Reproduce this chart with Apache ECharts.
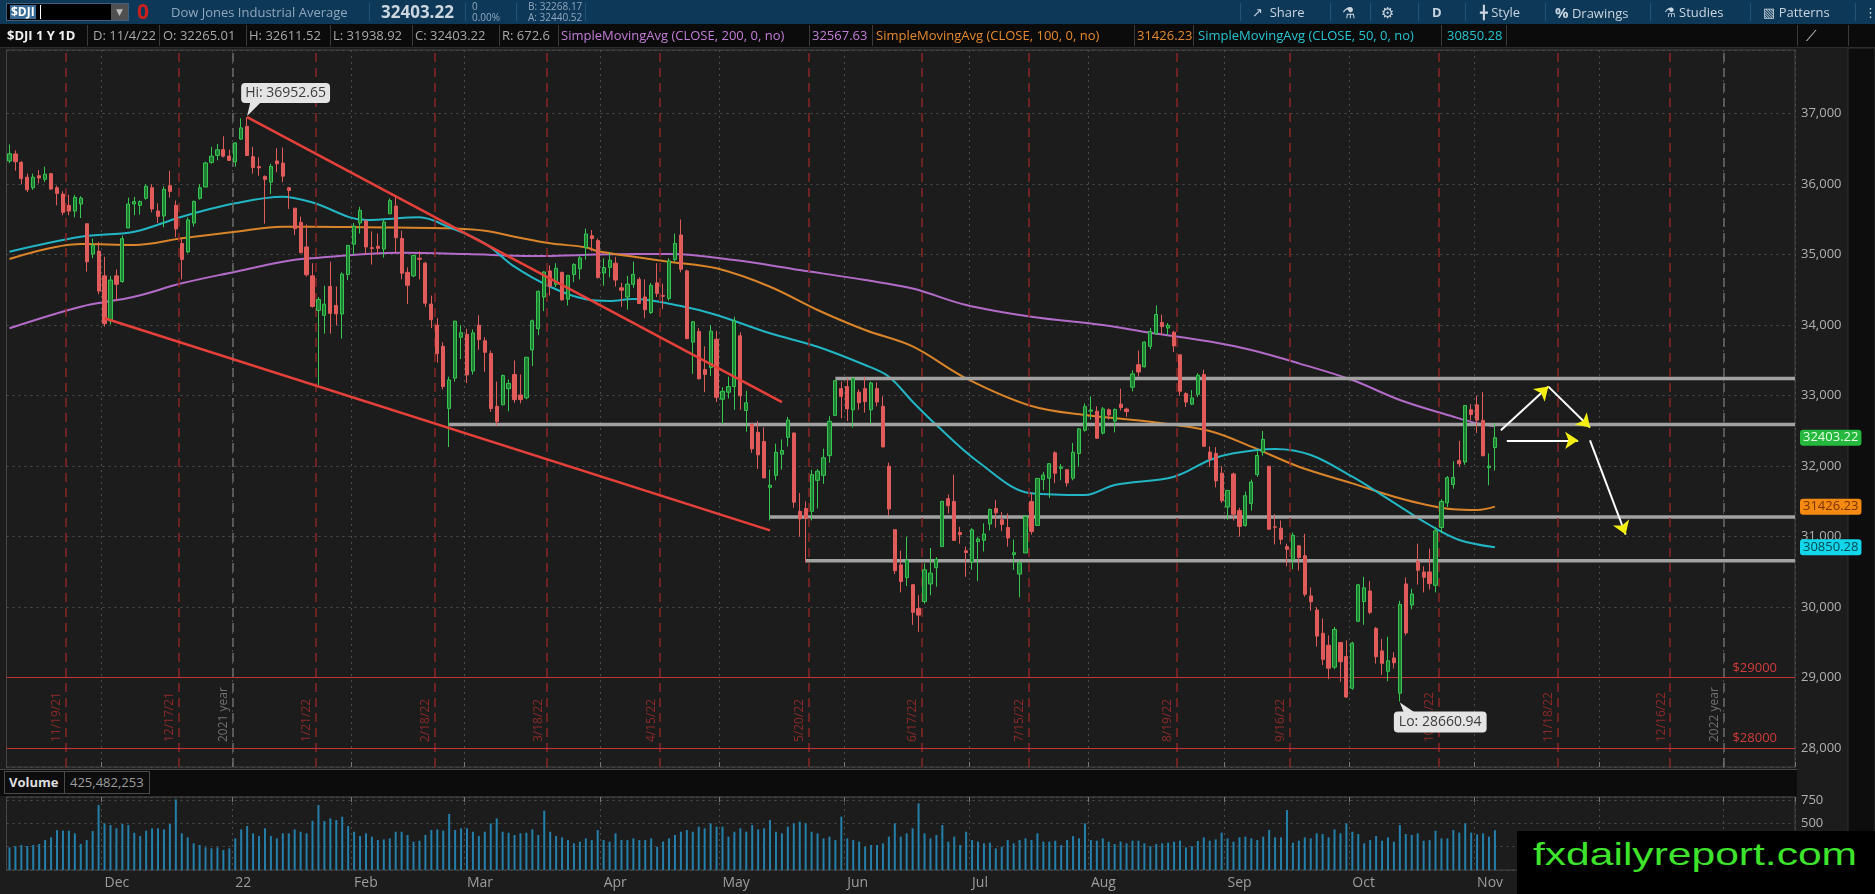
<!DOCTYPE html>
<html>
<head>
<meta charset="utf-8">
<title>$DJI 1 Y 1D</title>
<script src="https://cdn.jsdelivr.net/npm/echarts@6.0.0/dist/echarts.min.js"></script>
<style>
  html, body { margin:0; padding:0; width:1875px; height:894px; overflow:hidden; background:#1c1c1c; font-family:"Open Sans","DejaVu Sans",sans-serif; }
  #chart { position:absolute; left:0; top:0; width:1875px; height:894px; }
  .o { position:absolute; white-space:nowrap; }
  #row1 { position:absolute; left:0; top:0; width:1875px; height:24px; background:#0e3858; }
  #row2 { position:absolute; left:0; top:24px; width:1875px; height:24px; background:#0b0b0b; border-bottom:1px solid #2c2c2c; box-sizing:border-box; }
  .t1 { font-size:13px; line-height:24px; color:#8fa7bc; top:0; }
  .tb { font-size:13px; line-height:24px; color:#c9d5df; top:0; }
  .t2 { font-size:13px; line-height:23px; color:#a8a8a8; top:0; }
  .s1 { top:3px; width:1px; height:18px; background:#235477; }
  .s2 { top:1px; width:1px; height:21px; background:#3a3a3a; }
  #volband { position:absolute; left:0; top:769px; width:1797px; height:27px; background:#0c0c0c; border-top:1px solid #474747; box-sizing:border-box; }
  #wm { position:absolute; left:1517px; top:831px; width:358px; height:63px; background:#000; overflow:hidden; }
</style>
</head>
<body>
<div id="chart"></div>

<div id="row1">
  <div class="o" style="left:6px;top:3px;width:123px;height:18px;background:#000;border:1px solid #3f5f7a;box-sizing:border-box;">
    <span class="o" style="left:3px;top:1px;font-size:12px;line-height:14px;font-weight:bold;color:#fff;background:#3b6c98;padding:0 1px;">$DJI</span>
    <span class="o" style="left:33px;top:1px;width:1px;height:14px;background:#fff;"></span>
    <span class="o" style="left:104px;top:0;width:17px;height:16px;background:#505050;color:#bbb;font-size:9px;line-height:16px;text-align:center;">&#9660;</span>
  </div>
  <span class="o" style="left:137px;top:-1px;font-size:21px;line-height:24px;font-weight:bold;color:#c81f1f;">0</span>
  <span class="o t1" style="left:171px;">Dow Jones Industrial Average</span>
  <span class="o s1" style="left:369px;"></span>
  <span class="o" id="lastPx" style="left:381px;top:0;font-size:17px;line-height:24px;font-weight:bold;color:#ccd6df;"></span>
  <span class="o s1" style="left:465px;"></span>
  <span class="o" style="left:472px;top:1px;font-size:10px;line-height:11px;color:#8fa7bc;">0</span>
  <span class="o" style="left:472px;top:12px;font-size:10px;line-height:11px;color:#8fa7bc;">0.00%</span>
  <span class="o s1" style="left:516px;"></span>
  <span class="o" style="left:528px;top:1px;font-size:10px;line-height:11px;color:#8fa7bc;">B: 32268.17</span>
  <span class="o" style="left:528px;top:12px;font-size:10px;line-height:11px;color:#8fa7bc;">A: 32440.52</span>
  <span class="o s1" style="left:585px;"></span>

  <span class="o s1" style="left:1240px;"></span>
  <span class="o tb" style="left:1252px;">&#8599;&nbsp;&nbsp;Share</span>
  <span class="o s1" style="left:1330px;"></span>
  <span class="o tb" style="left:1342px;font-size:15px;">&#9879;</span>
  <span class="o s1" style="left:1370px;"></span>
  <span class="o tb" style="left:1381px;font-size:15px;">&#9881;</span>
  <span class="o s1" style="left:1418px;"></span>
  <span class="o tb" style="left:1432px;font-weight:bold;">D</span>
  <span class="o s1" style="left:1465px;"></span>
  <span class="o tb" style="left:1480px;">&#9547;&nbsp;Style</span>
  <span class="o s1" style="left:1545px;"></span>
  <span class="o tb" style="left:1555px;"><b style="font-size:15px;">%</b>&nbsp;Drawings</span>
  <span class="o s1" style="left:1650px;"></span>
  <span class="o tb" style="left:1664px;">&#9879;&nbsp;Studies</span>
  <span class="o s1" style="left:1750px;"></span>
  <span class="o tb" style="left:1763px;">&#9639;&nbsp;Patterns</span>
  <span class="o s1" style="left:1855px;"></span>
  <span class="o tb" style="left:1864px;">&#8942;</span>
</div>

<div id="row2">
  <span class="o t2" style="left:7px;font-weight:bold;color:#f0f0f0;">$DJI 1 Y 1D</span>
  <span class="o s2" style="left:87px;"></span>
  <span class="o t2" id="hD" style="left:93px;"></span>
  <span class="o s2" style="left:159px;"></span>
  <span class="o t2" id="hO" style="left:163px;"></span>
  <span class="o s2" style="left:246px;"></span>
  <span class="o t2" id="hH" style="left:249px;"></span>
  <span class="o s2" style="left:330px;"></span>
  <span class="o t2" id="hL" style="left:333px;"></span>
  <span class="o s2" style="left:412px;"></span>
  <span class="o t2" id="hC" style="left:415px;"></span>
  <span class="o s2" style="left:499px;"></span>
  <span class="o t2" id="hR" style="left:502px;"></span>
  <span class="o s2" style="left:558px;"></span>
  <span class="o t2" style="left:561px;color:#c47dd8;">SimpleMovingAvg (CLOSE, 200, 0, no)</span>
  <span class="o s2" style="left:809px;"></span>
  <span class="o t2" id="h200" style="left:812px;color:#c47dd8;"></span>
  <span class="o s2" style="left:872px;"></span>
  <span class="o t2" style="left:876px;color:#e6892c;">SimpleMovingAvg (CLOSE, 100, 0, no)</span>
  <span class="o s2" style="left:1134px;"></span>
  <span class="o t2" id="h100" style="left:1137px;color:#e6892c;"></span>
  <span class="o s2" style="left:1193px;"></span>
  <span class="o t2" style="left:1198px;color:#27c4d2;">SimpleMovingAvg (CLOSE, 50, 0, no)</span>
  <span class="o s2" style="left:1441px;"></span>
  <span class="o t2" id="h50" style="left:1447px;color:#27c4d2;"></span>
  <span class="o s2" style="left:1506px;"></span>
  <span class="o s2" style="left:1797px;"></span>
  <span class="o t2" style="left:1806px;color:#cfcfcf;font-size:15px;">&#10187;</span>
  <span class="o s2" style="left:1848px;"></span>
</div>

<div id="volband">
  <div class="o" style="left:4px;top:1px;width:146px;height:23px;border:1px solid #4a4a4a;box-sizing:border-box;">
    <span class="o" style="left:4px;top:0;font-size:13px;line-height:21px;font-weight:bold;color:#dedede;">Volume</span>
    <span class="o" style="left:59px;top:0;width:1px;height:21px;background:#4a4a4a;"></span>
    <span class="o" id="volLast" style="left:65px;top:0;font-size:13px;line-height:21px;color:#9c9c9c;"></span>
  </div>
</div>

<div id="wm">
  <span class="o" style="left:16px;top:7px;font-family:'Liberation Sans',Arial,sans-serif;font-size:32px;line-height:32px;color:#3ee42c;transform:scaleX(1.33);transform-origin:0 0;">fxdailyreport.com</span>
</div>

<script>
// ---------------- data ----------------
const firstSession = '2021-11-08';
const futureSessions = 50;
const closedDays = ['2021-11-25','2021-12-24','2022-01-17','2022-02-21','2022-04-15','2022-05-30',
  '2022-06-20','2022-07-04','2022-09-05','2022-11-24','2022-12-26','2023-01-02','2023-01-16'];

// daily candles [open, high, low, close]
const candles = [
  [36330,36565,36300,36432],[36430,36480,36190,36320],[36310,36330,35999,36079],[36100,36150,35890,35921],[35950,36150,35920,36100],
  [36120,36200,36010,36087],[36070,36250,36030,36142],[36150,36160,35920,35931],[35950,35980,35700,35870],[35860,35900,35560,35601],
  [35700,35850,35560,35619],[35620,35850,35530,35813],[35720,35830,35520,35804],[35440,35440,34760,34899],[35010,35230,34950,35135],
  [35050,35180,34440,34484],[34700,34970,33980,34022],[34060,34700,34010,34640],[34700,34790,34340,34580],[34620,35270,34600,35227],
  [35380,35810,35380,35719],[35720,35820,35560,35754],[35700,35770,35570,35754],[35800,36000,35780,35971],[35950,36000,35600,35650],
  [35620,35730,35450,35544],[35550,35970,35390,35927],[35980,36190,35810,35898],[35700,35770,35250,35365],[35160,35230,34650,34932],
  [35040,35530,35020,35493],[35450,35770,35400,35754],[35800,36000,35780,35950],[35960,36320,35960,36302],[36310,36530,36290,36398],
  [36410,36570,36340,36488],[36490,36680,36380,36398],[36400,36490,36330,36338],[36320,36600,36250,36585],[36640,36935,36630,36799],
  [36820,36952.65,36400,36407],[36390,36530,36150,36236],[36250,36380,36120,36231],[36110,36125,35440,36068],[36030,36290,35860,36252],
  [36330,36510,36170,36290],[36300,36520,36030,36114],[35950,35960,35650,35912],[35660,35660,35280,35368],[35460,35540,35020,35029],
  [35110,35430,34690,34715],[34700,34880,34250,34265],[34210,34400,33150,34364],[34140,34560,33880,34298],[34550,34900,33880,34168],
  [34280,34550,34000,34161],[34160,34750,33810,34725],[34720,35140,34640,35132],[35150,35450,35000,35405],[35450,35680,35300,35629],
  [35480,35500,35000,35111],[35100,35330,34860,35089],[35120,35300,35000,35091],[35080,35500,34960,35463],[35580,35800,35580,35768],
  [35690,35830,35030,35242],[35230,35340,34650,34738],[34750,34820,34300,34566],[34700,35000,34680,34989],[34950,35050,34650,34935],
  [34880,34900,34260,34312],[34300,34420,33960,34079],[34000,34100,33470,33596],[33700,33760,33090,33131],[32820,33270,32272,33224],
  [33250,34060,33200,34058],[33830,34000,33520,33893],[33870,33950,33180,33295],[33350,33940,33300,33891],[34000,34140,33650,33795],
  [33780,33830,33340,33615],[33600,33640,32770,32818],[32850,33200,32580,32633],[32870,33300,32870,33286],[33100,33230,32780,33174],
  [33300,33500,32900,32944],[33010,33300,32890,32945],[32970,33550,32950,33545],[33650,34080,33420,34063],[33950,34490,33860,34481],
  [34400,34770,34200,34755],[34770,34850,34420,34553],[34580,34880,34540,34808],[34750,34760,34350,34359],[34370,34710,34280,34707],
  [34720,34880,34610,34861],[34800,34990,34650,34955],[35100,35370,34930,35294],[35270,35350,35050,35229],[35200,35230,34660,34678],
  [34740,34950,34560,34818],[34820,35040,34680,34922],[34880,34970,34550,34641],[34530,34600,34260,34497],[34400,34700,34220,34583],
  [34580,34900,34530,34721],[34650,34680,34300,34308],[34400,34650,34100,34220],[34180,34600,34160,34565],[34600,34880,34400,34452],
  [34420,34590,34230,34412],[34380,34950,34350,34912],[34930,35300,34900,35161],[35280,35500,34750,34793],[34770,34790,33800,33811],
  [33760,34060,33310,34049],[33910,33960,33230,33240],[33370,33700,33050,33302],[33400,34000,33280,33916],[33800,33920,32910,32977],
  [32950,33120,32600,33062],[33050,33270,32960,33129],[33130,34120,32800,34061],[33850,33900,32800,32998],[32790,33070,32490,32899],
  [32600,32600,32190,32246],[32480,32640,31960,32161],[32350,32550,31830,31834],[31700,31950,31230,31730],[31870,32320,31800,32197],
  [32170,32380,31950,32223],[32410,32700,32280,32655],[32470,32480,31410,31490],[31360,31620,31000,31253],[31400,31500,30635,31262],
  [31360,31950,31230,31880],[31800,31960,31400,31929],[31870,32250,31750,32120],[32150,32710,32050,32637],[32720,33220,32720,33213],
  [33100,33200,32680,32990],[33130,33250,32640,32813],[32800,33250,32550,33248],[33050,33090,32800,32900],[33100,33270,32760,32916],
  [32800,33200,32600,33180],[33100,33190,32850,32910],[32850,32990,32270,32273],[32000,32050,31300,31393],[31100,31100,30470,30517],
  [30600,30800,30210,30365],[30420,31000,30300,30668],[30320,30320,29750,29927],[29980,30170,29650,29888],[30080,30620,30050,30530],
  [30330,30840,30170,30483],[30560,30710,30290,30677],[30860,31510,30860,31501],[31540,31600,31330,31439],[31500,31880,30940,30947],
  [31060,31140,30900,31029],[30800,30860,30430,30775],[30640,31120,30530,31097],[30930,31000,30370,30968],[30950,31190,30790,31037],
  [31180,31400,31090,31385],[31400,31520,31130,31339],[31240,31350,31080,31174],[31130,31330,30860,30982],[30745,30960,30530,30773],
  [30470,30660,30140,30630],[30770,31300,30770,31289],[31500,31620,31030,31073],[31160,31830,31160,31827],[31810,31920,31660,31875],
  [31830,32040,31550,32036],[32190,32210,31760,31899],[31970,32030,31800,31990],[31950,31960,31710,31762],[31830,32330,31800,32198],
  [32180,32540,31990,32529],[32510,32890,32490,32845],[32780,32990,32660,32798],[32780,32850,32390,32397],[32470,32840,32450,32813],
  [32800,32820,32660,32727],[32640,32820,32480,32803],[32880,33100,32790,32833],[32810,32830,32700,32775],[33120,33360,33060,33309],
  [33440,33640,33270,33336],[33410,33770,33400,33761],[33700,33960,33660,33912],[33880,34280,33860,34152],[34040,34150,33860,33980],
  [33960,34030,33860,33999],[33900,33920,33620,33706],[33580,33580,33000,33063],[33030,33050,32840,32909],[32880,33080,32870,32969],
  [33020,33320,32980,33291],[33300,33370,32270,32283],[32200,32280,31990,32099],[32180,32270,31700,31791],[31900,32000,31480,31510],
  [31420,31660,31240,31656],[31890,31910,31230,31318],[31370,31410,31000,31146],[31160,31640,31140,31581],[31470,31810,31370,31775],
  [31880,32230,31850,32152],[32200,32500,32150,32381],[32000,32000,31100,31105],[31140,31320,30890,31135],[31120,31230,30890,30962],
  [30860,30900,30580,30822],[30680,31060,30540,31020],[30870,30880,30520,30706],[30730,31040,30150,30184],[30160,30280,29950,30077],
  [29960,30000,29440,29590],[29630,29840,29180,29261],[29460,29600,28980,29135],[29150,29720,29120,29684],[29500,29500,28940,29226],
  [29300,29530,28715,28726],[28850,29510,28830,29490],[29800,30330,29790,30317],[30080,30430,29750,30274],[30230,30370,29900,29927],
  [29700,29720,29200,29297],[29380,29550,29040,29203],[29090,29580,28950,29240],[29280,29360,29130,29211],[28780,30090,28660.94,30039],
  [30330,30420,29600,29635],[30030,30260,29970,30186],[30650,30900,30320,30524],[30500,30580,30210,30424],[30500,30830,30250,30334],
  [30310,31140,30210,31083],[31130,31530,31050,31500],[31480,31860,31420,31837],[31740,32070,31680,31839],[32080,32360,31990,32034],
  [32060,32870,32020,32861],[32800,32880,32650,32733],[32870,33000,32470,32653],[32650,33050,32140,32148],[31980,32180,31730,32002],
  [32265.01,32611.52,31938.92,32403.22]
];

// daily volume, millions of shares
const volumes = [
  242,256,267,256,267,278,320,349,427,420, 420,392,278,320,417,694,498,480,445,491,
  480,398,363,420,445,445,434,491,755,392, 349,285,267,242,231,242,214,231,338,434,
  470,392,363,445,363,338,392,392,434,409, 392,527,694,523,552,534,569,470,409,363,
  392,356,320,327,338,409,409,374,302,313, 374,427,434,420,598,427,445,445,409,363,
  409,498,552,409,398,374,392,398,434,374, 634,409,363,349,320,285,302,338,320,427,
  320,303,392,320,320,338,320,320,338,249, 303,338,374,409,427,409,463,445,498,463,
  463,356,409,445,409,481,434,445,534,409, 392,463,498,516,498,409,392,338,356,320,
  570,338,320,303,249,267,267,285,356,498, 356,392,445,712,392,338,374,481,303,356,
  267,409,320,303,285,292,231,249,320,285, 320,338,320,392,303,303,313,267,320,363,
  338,498,320,313,338,303,278,303,285,313, 313,285,256,278,285,292,302,313,242,256,
  310,349,313,327,399,338,302,349,356,338, 320,356,427,349,349,641,292,313,349,338,
  392,384,349,434,392,498,409,384,285,320, 363,313,349,302,481,384,374,392,313,320,
  420,338,338,427,399,498,399,380,392,356, 425.482253
];

// moving averages read at sample sessions [session, value]
const sma200 = [
  ['2021-11-08',33956],['2021-11-24',34262],['2021-12-08',34404],['2021-12-20',34594],['2022-01-03',34759],
  ['2022-01-13',34901],['2022-01-20',34945],['2022-02-11',35028],['2022-03-01',35010],['2022-03-16',34982],
  ['2022-04-04',35005],['2022-04-19',35010],['2022-05-04',34925],['2022-05-19',34783],['2022-06-06',34641],
  ['2022-06-16',34520],['2022-06-30',34287],['2022-07-18',34121],['2022-08-03',34003],['2022-08-15',33894],
  ['2022-08-29',33770],['2022-09-08',33648],['2022-09-20',33459],['2022-10-03',33222],['2022-10-13',32939],
  ['2022-10-26',32702],['2022-11-01',32608],['2022-11-04',32567.63]
];
const sma100 = [
  ['2021-11-08',34939],['2021-11-24',35152],['2021-12-08',35138],['2021-12-20',35233],['2022-01-03',35326],
  ['2022-01-13',35397],['2022-01-21',35397],['2022-02-03',35389],['2022-02-24',35375],['2022-03-04',35340],
  ['2022-03-11',35255],['2022-03-21',35162],['2022-03-29',35105],['2022-03-31',35050],['2022-04-19',34901],
  ['2022-04-29',34807],['2022-05-12',34546],['2022-05-24',34216],['2022-06-06',33932],['2022-06-16',33700],
  ['2022-06-30',33247],['2022-07-18',32854],['2022-07-29',32726],['2022-08-15',32631],['2022-08-29',32500],
  ['2022-09-08',32277],['2022-09-20',31993],['2022-10-03',31757],['2022-10-13',31545],['2022-10-26',31389],
  ['2022-11-01',31379],['2022-11-04',31426.23]
];
const sma50 = [
  ['2021-11-08',35043],['2021-11-24',35255],['2021-12-08',35326],['2021-12-20',35539],['2022-01-03',35729],
  ['2022-01-13',35823],['2022-01-21',35740],['2022-02-03',35492],['2022-02-16',35530],['2022-02-24',35389],
  ['2022-03-04',35162],['2022-03-11',34830],['2022-03-21',34546],['2022-03-29',34367],['2022-04-04',34343],
  ['2022-04-08',34372],['2022-04-21',34272],['2022-04-29',34145],['2022-05-12',33885],['2022-05-24',33695],
  ['2022-06-06',33435],['2022-06-10',33270],['2022-06-16',32915],['2022-06-23',32584],['2022-07-05',32064],
  ['2022-07-18',31616],['2022-07-29',31591],['2022-08-05',31733],['2022-08-19',31851],['2022-08-29',32088],
  ['2022-09-02',32183],['2022-09-14',32244],['2022-09-22',32159],['2022-10-03',31851],['2022-10-10',31591],
  ['2022-10-20',31166],['2022-10-27',30953],['2022-11-04',30850.28]
];

// drawings
const levelLines = [['2022-05-27',33245],['2022-02-24',32590],['2022-05-12',31280],['2022-05-20',30660]];
const trendLines = [
  [['2022-01-05',36952],['2022-05-16',32910]],
  [['2021-12-01',34098],['2022-05-12',31090]]
];
const arrows = [
  [['2022-11-07',32511],['2022-11-17',33129]],
  [['2022-11-17',33129],['2022-11-29',32549]],
  [['2022-11-08',32367],['2022-11-25',32367]],
  [['2022-11-29',32367],['2022-12-07',31031]]
];
const priceLevels = [29000, 28000];
const expirations = ['2021-11-19','2021-12-17','2022-01-21','2022-02-18','2022-03-18','2022-04-15','2022-05-20',
  '2022-06-17','2022-07-15','2022-08-19','2022-09-16','2022-10-21','2022-11-18','2022-12-16'];
const yearEnds = [['2021 year','2021-12-31'],['2022 year','2022-12-30']];
const MONTHS = ['Jan','Feb','Mar','Apr','May','Jun','Jul','Aug','Sep','Oct','Nov','Dec'];

// ---------------- build ----------------
function buildSessions(start, count, closed) {
  const out = [];
  const d = new Date(start + 'T00:00:00Z');
  while (out.length < count) {
    const wd = d.getUTCDay();
    const s = d.toISOString().slice(0, 10);
    if (wd !== 0 && wd !== 6 && closed.indexOf(s) < 0) out.push(s);
    d.setUTCDate(d.getUTCDate() + 1);
  }
  return out;
}
const dates = buildSessions(firstSession, candles.length + futureSessions, closedDays);
const N = dates.length;
const ix = d => dates.indexOf(d);
const onOrBefore = d => { let k = -1; for (let i = 0; i < N; i++) if (dates[i] <= d) k = i; return k; };
const monthStart = dates.map((d, i) => i > 0 && d.slice(5, 7) !== dates[i - 1].slice(5, 7));
const monthLabel = d => { const m = +d.slice(5, 7); return m === 1 ? d.slice(2, 4) : MONTHS[m - 1]; };
const fmtDate = d => (+d.slice(5, 7)) + '/' + (+d.slice(8, 10)) + '/' + d.slice(2, 4);

const last = candles[candles.length - 1];
const lastDate = dates[candles.length - 1];
const last200 = sma200[sma200.length - 1][1], last100 = sma100[sma100.length - 1][1], last50 = sma50[sma50.length - 1][1];

// header texts from data
document.getElementById('lastPx').textContent = last[3].toFixed(2);
document.getElementById('hD').textContent = 'D: ' + fmtDate(lastDate);
document.getElementById('hO').textContent = 'O: ' + last[0].toFixed(2);
document.getElementById('hH').textContent = 'H: ' + last[1].toFixed(2);
document.getElementById('hL').textContent = 'L: ' + last[2].toFixed(2);
document.getElementById('hC').textContent = 'C: ' + last[3].toFixed(2);
document.getElementById('hR').textContent = 'R: ' + (+(last[1] - last[2]).toFixed(2));
document.getElementById('h200').textContent = last200.toFixed(2);
document.getElementById('h100').textContent = last100.toFixed(2);
document.getElementById('h50').textContent = last50.toFixed(2);
document.getElementById('volLast').textContent = Math.round(volumes[volumes.length - 1] * 1e6).toLocaleString('en-US');

const FONT = '"Open Sans", "DejaVu Sans", sans-serif';
const UP = '#36c651', DOWN = '#e25b5b';
const Y_MIN = 27733, Y_MAX = 37904;

const guideLines = [];
expirations.forEach(d => guideLines.push({ xAxis: onOrBefore(d) + 0.5,
  lineStyle: { color: '#8a2424', width: 1.5, type: [9, 6] } }));
yearEnds.forEach(y => guideLines.push({ xAxis: ix(y[1]) + 0.5,
  lineStyle: { color: '#6a6a6a', width: 1.5, type: [9, 6] } }));

const toIx = p => [ix(p[0]), p[1]];

const series = [
  { type: 'line', name: 'guides', xAxisIndex: 1, yAxisIndex: 0, data: [], z: 1, silent: true,
    markLine: { symbol: 'none', silent: true, animation: false, label: { show: false }, data: guideLines } },
  { type: 'bar', name: 'Volume', xAxisIndex: 2, yAxisIndex: 1, data: volumes, barWidth: 2,
    itemStyle: { color: '#2480aa' }, z: 2, silent: true },
  { type: 'line', name: 'SMA200', xAxisIndex: 0, yAxisIndex: 0, data: sma200, showSymbol: false, smooth: 0.35,
    lineStyle: { color: '#b26bc8', width: 2 }, z: 3, silent: true },
  { type: 'line', name: 'SMA100', xAxisIndex: 0, yAxisIndex: 0, data: sma100, showSymbol: false, smooth: 0.35,
    lineStyle: { color: '#da842a', width: 2 }, z: 3, silent: true },
  { type: 'line', name: 'SMA50', xAxisIndex: 0, yAxisIndex: 0, data: sma50, showSymbol: false, smooth: 0.35,
    lineStyle: { color: '#22b6c5', width: 2 }, z: 3, silent: true }
];
levelLines.forEach(l => series.push({ type: 'line', xAxisIndex: 1, yAxisIndex: 0,
  data: [[ix(l[0]), l[1]], [N - 0.5, l[1]]], showSymbol: false, lineStyle: { color: '#a2a2a2', width: 3.5 }, z: 4, silent: true }));
series.push({
  type: 'candlestick', name: '$DJI', xAxisIndex: 0, yAxisIndex: 0, barWidth: '62%', z: 5,
  data: candles.map(r => [r[0], r[3], r[2], r[1]]),
  itemStyle: { color: '#1f7d33', color0: DOWN, borderColor: UP, borderColor0: DOWN, borderWidth: 1 },
  markLine: { symbol: 'none', silent: true, animation: false, data:
    priceLevels.map(p => ({ yAxis: p, lineStyle: { color: '#c63434', width: 1.2, type: 'solid' },
      label: { show: true, position: 'insideEndTop', distance: [18, 3], formatter: '$' + p, color: '#d23c3c', fontSize: 13, fontFamily: FONT } }))
  }
});
trendLines.forEach(t => series.push({ type: 'line', xAxisIndex: 1, yAxisIndex: 0, data: t.map(toIx),
  showSymbol: false, lineStyle: { color: '#e5403a', width: 2.5 }, z: 6, silent: true }));
series.push({ type: 'lines', coordinateSystem: 'cartesian2d', xAxisIndex: 1, yAxisIndex: 0, z: 7, silent: true,
  symbol: ['none', 'none'], lineStyle: { color: '#ffffff', width: 2, opacity: 1 },
  data: arrows.map(a => ({ coords: a.map(toIx) })) });
series.push({ type: 'lines', coordinateSystem: 'cartesian2d', xAxisIndex: 1, yAxisIndex: 0, z: 8, silent: true,
  symbol: ['none', 'arrow'], symbolSize: 13, lineStyle: { color: '#f2ee12', width: 1.5, opacity: 1 },
  data: arrows.map(a => { const s = toIx(a[0]), e = toIx(a[1]);
    return { coords: [[e[0] + (s[0] - e[0]) * 0.1, e[1] + (s[1] - e[1]) * 0.1], e] }; }) });

const dotted = { color: '#4c4c4c', type: [2, 4], width: 1 };
const option = {
  animation: false,
  backgroundColor: '#1c1c1c',
  textStyle: { fontFamily: FONT },
  grid: [
    { left: 6.5, right: 80, top: 50, height: 717, show: true, borderColor: '#454545', borderWidth: 1 },
    { left: 6.5, right: 80, top: 797, height: 73, show: true, borderColor: '#454545', borderWidth: 1 }
  ],
  xAxis: [
    { type: 'category', gridIndex: 0, data: dates, boundaryGap: true,
      axisLine: { show: false }, axisLabel: { show: false },
      axisTick: { show: true, inside: true, length: 5, interval: i => monthStart[i], lineStyle: { color: '#777' } },
      splitLine: { show: true, interval: i => monthStart[i], lineStyle: dotted } },
    { type: 'value', gridIndex: 0, min: -0.5, max: N - 0.5, show: false },
    { type: 'category', gridIndex: 1, data: dates, boundaryGap: true, position: 'bottom',
      axisLine: { show: false }, axisTick: { show: false },
      axisLabel: { interval: i => monthStart[i], formatter: v => monthLabel(v), color: '#9c9c9c', fontSize: 14,
        align: 'left', margin: 6, fontFamily: FONT },
      splitLine: { show: true, interval: i => monthStart[i], lineStyle: dotted } },
    { type: 'category', gridIndex: 1, data: dates, boundaryGap: true, position: 'top',
      axisLine: { show: false }, axisLabel: { show: false },
      axisTick: { show: true, inside: true, length: 5, interval: i => monthStart[i], lineStyle: { color: '#777' } } }
  ],
  yAxis: [
    { type: 'value', gridIndex: 0, position: 'right', min: Y_MIN, max: Y_MAX, splitNumber: 10, scale: true,
      axisLine: { show: false }, axisTick: { show: false },
      axisLabel: { color: '#b0b0b0', fontSize: 13, margin: 6, showMinLabel: false, showMaxLabel: false, fontFamily: FONT },
      splitLine: { show: true, lineStyle: dotted } },
    { type: 'value', gridIndex: 1, position: 'right', min: 0, max: 780, interval: 250,
      axisLine: { show: false }, axisTick: { show: false },
      axisLabel: { color: '#b0b0b0', fontSize: 13, margin: 6, showMinLabel: false, showMaxLabel: false, fontFamily: FONT },
      splitLine: { show: true, lineStyle: dotted } }
  ],
  series: series
};

const chart = echarts.init(document.getElementById('chart'), null, { renderer: 'canvas' });
chart.setOption(option);

// callouts, price tags and rotated marker labels positioned through the chart's own scales
const P = (x, y) => chart.convertToPixel({ xAxisIndex: 1, yAxisIndex: 0 }, [x, y]);
const bottomY = P(0, Y_MIN)[1];
const rightX = P(N - 0.5, Y_MIN)[0];
const els = [];
// dark right-hand strip of the platform window
els.push({ type: 'rect', z: -10, silent: true, shape: { x: 1848, y: 48, width: 27, height: 846 },
  style: { fill: '#0d0d0d', stroke: '#303030', lineWidth: 1 } });
expirations.forEach(d => {
  const p = P(onOrBefore(d) + 0.5, Y_MIN);
  els.push({ type: 'text', x: p[0] - 3, y: bottomY - 25, rotation: Math.PI / 2, z: 1, silent: true,
    style: { text: fmtDate(d), fill: '#8e2a2a', font: '12px ' + FONT, align: 'left', verticalAlign: 'bottom' } });
});
yearEnds.forEach(y => {
  const p = P(ix(y[1]) + 0.5, Y_MIN);
  els.push({ type: 'text', x: p[0] - 3, y: bottomY - 25, rotation: Math.PI / 2, z: 1, silent: true,
    style: { text: y[0], fill: '#707070', font: '12px ' + FONT, align: 'left', verticalAlign: 'bottom' } });
});
// axis price bubbles: last close, SMA100, SMA50
[[last[3], '#24b83d', '#e6ffe6'], [last100, '#f58a12', '#7a3200'], [last50, '#12d6ea', '#064650']].forEach(t => {
  const y = P(0, t[0])[1];
  els.push({ type: 'text', z: 120, silent: true, x: rightX + 5, y: y,
    style: { text: t[0].toFixed(2), fill: t[2], font: '13px ' + FONT, lineHeight: 14,
      backgroundColor: t[1], padding: [1, 3, 1, 3], borderRadius: 3, align: 'left', verticalAlign: 'middle' } });
});
let hiI = 0, loI = 0;
candles.forEach((r, i) => { if (r[1] > candles[hiI][1]) hiI = i; if (r[2] < candles[loI][2]) loI = i; });
const hp = P(hiI, candles[hiI][1]);
const lp = P(loI, candles[loI][2]);
const boxFill = '#e4e4e4';
els.push({ type: 'polygon', z: 100, silent: true, shape: { points: [[hp[0] + 3, hp[1] - 14], [hp[0] + 13, hp[1] - 14], [hp[0], hp[1] - 1]] }, style: { fill: boxFill } });
els.push({ type: 'text', z: 101, silent: true, x: hp[0] - 6, y: hp[1] - 34,
  style: { text: 'Hi: ' + candles[hiI][1].toFixed(2), fill: '#3c3c3c', font: '14px ' + FONT, lineHeight: 16,
    backgroundColor: boxFill, padding: [2, 4, 2, 4], borderRadius: 4, align: 'left', verticalAlign: 'top' } });
els.push({ type: 'polygon', z: 100, silent: true, shape: { points: [[lp[0] + 4, lp[1] + 11], [lp[0] + 15, lp[1] + 11], [lp[0], lp[1] + 1]] }, style: { fill: boxFill } });
els.push({ type: 'text', z: 101, silent: true, x: lp[0] - 6, y: lp[1] + 10,
  style: { text: 'Lo: ' + candles[loI][2].toFixed(2), fill: '#3c3c3c', font: '14px ' + FONT, lineHeight: 17,
    backgroundColor: boxFill, padding: [2, 5, 2, 5], borderRadius: 4, align: 'left', verticalAlign: 'top' } });
chart.setOption({ graphic: { elements: els } });
</script>
</body>
</html>
